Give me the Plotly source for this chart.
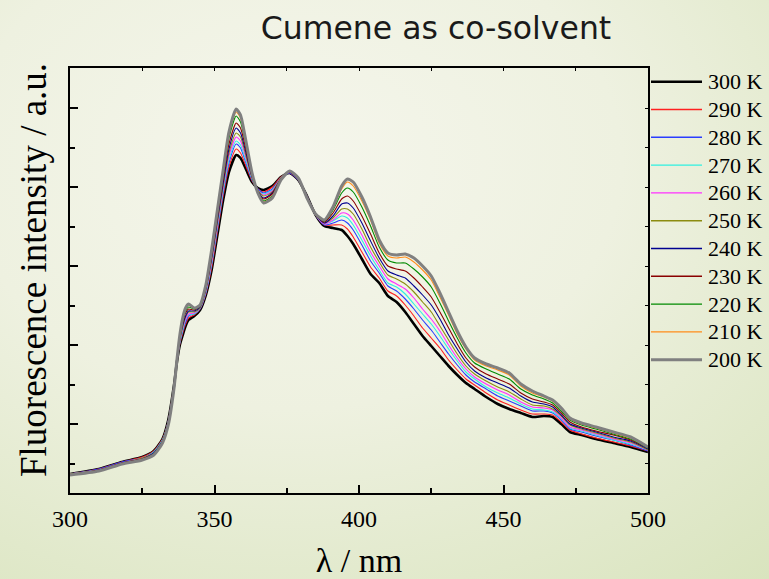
import base64
import plotly.graph_objects as go

# ---------------- data (arbitrary units) ----------------
wavelength = [300, 310, 318, 325, 329, 332, 334, 336, 337, 338, 339, 340, 341, 343, 345,
              347, 349, 351, 353, 355, 357.5, 359, 361, 363, 365, 367, 370, 373, 376, 379,
              382, 385, 388, 391, 394, 396, 398, 401, 404, 407, 410, 413, 416, 419, 422,
              425, 428, 431, 434, 437, 440, 444, 448, 452, 456, 460, 464, 467, 470, 473,
              477, 482, 488, 494, 500]

i300 = [19, 24, 31, 36, 42, 54, 73, 108, 131, 148, 158, 167, 173, 177, 183,
        198, 223, 258, 293, 321, 338, 335, 323, 311, 305, 303, 307, 316, 320, 313,
        297, 278, 267, 265, 263, 257, 249, 234, 219, 210, 197, 191, 181, 169, 157,
        147, 137, 127, 118, 110, 104, 96, 89, 84, 80, 76, 77, 76, 69, 61,
        58, 54, 50, 46, 41]
i290 = [19, 24, 31, 36, 42, 54, 72, 108, 131, 149, 160, 169, 175, 178, 184,
        199, 225, 261, 297, 326, 344, 340, 326, 312, 304, 301, 306, 316, 320, 313,
        297, 278, 268, 268, 268, 264, 256, 241, 226, 215, 202, 197, 188, 177, 165,
        155, 145, 133, 123, 114, 108, 100, 93, 88, 83, 79, 79, 78, 71, 63,
        59, 55, 51, 47, 42]
i280 = [19, 24, 31, 35, 41, 53, 72, 107, 131, 150, 162, 171, 177, 179, 184,
        200, 228, 264, 300, 330, 349, 345, 329, 313, 304, 300, 304, 315, 320, 313,
        297, 278, 268, 270, 273, 270, 263, 248, 232, 220, 207, 202, 194, 184, 173,
        163, 151, 139, 128, 118, 111, 104, 97, 92, 87, 82, 82, 80, 73, 64,
        61, 57, 53, 48, 42]
i270 = [19, 23, 30, 35, 41, 53, 71, 107, 132, 151, 163, 173, 178, 179, 185,
        201, 229, 266, 302, 333, 352, 348, 331, 314, 303, 299, 303, 315, 321, 314,
        296, 278, 269, 272, 277, 275, 268, 253, 237, 223, 210, 206, 199, 189, 179,
        169, 157, 144, 132, 121, 114, 106, 100, 95, 89, 84, 83, 81, 74, 65,
        62, 58, 53, 49, 43]
i260 = [19, 23, 30, 35, 40, 52, 71, 107, 132, 152, 165, 174, 179, 180, 185,
        202, 231, 268, 305, 337, 356, 352, 334, 315, 303, 298, 302, 315, 321, 314,
        296, 278, 269, 273, 280, 279, 273, 258, 241, 227, 214, 209, 204, 195, 184,
        174, 162, 148, 135, 124, 116, 109, 103, 98, 91, 86, 85, 83, 75, 66,
        63, 59, 54, 50, 43]
i250 = [19, 23, 30, 35, 40, 52, 71, 107, 132, 153, 166, 176, 181, 181, 185,
        203, 233, 270, 307, 340, 360, 356, 336, 315, 303, 297, 301, 315, 321, 314,
        296, 278, 270, 275, 284, 284, 279, 264, 246, 231, 218, 214, 209, 201, 191,
        181, 167, 153, 139, 127, 119, 112, 106, 101, 94, 88, 87, 84, 77, 68,
        64, 60, 55, 51, 43]
i240 = [18, 23, 30, 34, 40, 52, 70, 106, 132, 154, 168, 177, 182, 182, 186,
        204, 235, 273, 310, 344, 365, 360, 339, 316, 302, 295, 300, 314, 321, 314,
        296, 279, 270, 277, 289, 290, 285, 270, 252, 235, 222, 218, 215, 207, 198,
        188, 174, 158, 144, 131, 122, 115, 110, 105, 97, 91, 89, 86, 78, 69,
        65, 61, 56, 52, 44]
i230 = [18, 23, 30, 34, 39, 51, 69, 106, 132, 155, 170, 180, 184, 183, 187,
        205, 237, 276, 314, 349, 370, 365, 342, 317, 301, 294, 299, 314, 321, 314,
        296, 279, 271, 280, 294, 297, 292, 277, 259, 240, 227, 224, 222, 215, 206,
        196, 181, 165, 149, 135, 126, 119, 114, 109, 100, 94, 91, 88, 80, 71,
        66, 62, 58, 53, 45]
i220 = [18, 22, 29, 33, 39, 51, 69, 105, 133, 156, 172, 182, 186, 184, 187,
        206, 240, 279, 318, 355, 377, 371, 346, 319, 301, 292, 297, 313, 322, 315,
        295, 279, 272, 283, 300, 305, 301, 286, 267, 246, 233, 230, 230, 224, 216,
        206, 190, 172, 155, 140, 130, 124, 119, 114, 104, 98, 94, 90, 82, 73,
        68, 64, 59, 54, 45]
i210 = [18, 22, 29, 33, 38, 50, 68, 105, 133, 157, 174, 184, 188, 185, 188,
        207, 242, 282, 321, 359, 381, 375, 348, 319, 300, 291, 296, 313, 322, 315,
        295, 279, 273, 285, 304, 311, 307, 292, 273, 250, 237, 235, 236, 231, 223,
        213, 196, 178, 159, 144, 133, 127, 123, 118, 107, 100, 96, 92, 84, 74,
        69, 65, 60, 55, 46]
i200 = [18, 22, 29, 33, 38, 50, 68, 105, 133, 158, 175, 185, 189, 185, 188,
        208, 243, 283, 323, 361, 384, 378, 350, 320, 300, 290, 295, 313, 322, 315,
        295, 279, 273, 286, 307, 314, 311, 296, 276, 253, 240, 238, 239, 235, 227,
        217, 200, 181, 162, 146, 135, 129, 125, 120, 109, 102, 97, 93, 85, 75,
        70, 66, 61, 56, 46]

series_names = ["300 K", "290 K", "280 K", "270 K", "260 K", "250 K",
                "240 K", "230 K", "220 K", "210 K", "200 K"]
series_values = [i300, i290, i280, i270, i260, i250, i240, i230, i220, i210, i200]
x_tick_values = [300, 350, 400, 450, 500]
x_tick_labels = ["300", "350", "400", "450", "500"]

# ---------------- styles ----------------
series_colors = ["#000000", "#ff2020", "#2a3dff", "#2ff0e0", "#ff30ff", "#8c8c10",
                 "#000090", "#8a0000", "#008a00", "#ff8c1a", "#808080"]
series_widths = [2.6, 1.1, 1.1, 1.1, 1.1, 1.1, 1.1, 1.1, 1.1, 1.1, 3.0]

W, H = 769, 579
ML, MR, MT, MB = 70, 121, 68, 86
PW, PH = W - ML - MR, H - MT - MB

fig = go.Figure()
for name, vals, col, lw in zip(series_names, series_values, series_colors, series_widths):
    fig.add_trace(go.Scatter(x=wavelength, y=vals, mode="lines", name=name,
                             line=dict(color=col, width=lw, shape="spline", smoothing=0.6),
                             showlegend=False))

# empty trace to carry the short top/right mirror ticks
fig.add_trace(go.Scatter(x=[None], y=[None], xaxis="x2", yaxis="y2",
                         showlegend=False, hoverinfo="skip"))

serif = "Liberation Serif, Times New Roman, serif"

fig.update_layout(
    width=W, height=H,
    margin=dict(l=ML, r=MR, t=MT, b=MB, autoexpand=False),
    paper_bgcolor="#eef1e0",
    plot_bgcolor="rgba(0,0,0,0)",
    showlegend=False,
    title=dict(text="Cumene as co-solvent", x=436 / W, xanchor="center",
               y=1 - 28 / H, yanchor="middle",
               font=dict(family="DejaVu Sans", size=31.5, color="#1a1a1a")),
    xaxis=dict(range=[300, 500], tickvals=x_tick_values, ticktext=x_tick_labels,
               ticks="inside", ticklen=8, tickwidth=1.5, tickcolor="black",
               minor=dict(ticks="inside", ticklen=5, dtick=25, tick0=300,
                          tickwidth=1.5, tickcolor="black"),
               showline=True, linecolor="black", linewidth=2, mirror=True,
               showgrid=False, zeroline=False,
               tickfont=dict(family=serif, size=24, color="black"),
               ticklabelstandoff=3,
               title=dict(text="λ / nm", font=dict(family=serif, size=34, color="black"),
                          standoff=30)),
    yaxis=dict(range=[0, 425], tick0=69, dtick=79, showticklabels=False,
               ticks="inside", ticklen=8, tickwidth=1.5, tickcolor="black",
               minor=dict(ticks="inside", ticklen=5, dtick=39.5, tick0=29.5,
                          tickwidth=1.5, tickcolor="black"),
               showline=True, linecolor="black", linewidth=2, mirror=True,
               showgrid=False, zeroline=False),
    xaxis2=dict(range=[300, 500], overlaying="x", side="top", dtick=25, tick0=300,
                ticks="inside", ticklen=3, tickwidth=1.2, tickcolor="black",
                showticklabels=False, showgrid=False, zeroline=False, showline=False),
    yaxis2=dict(range=[0, 425], overlaying="y", side="right", dtick=39.5, tick0=29.5,
                ticks="inside", ticklen=3, tickwidth=1.2, tickcolor="black",
                showticklabels=False, showgrid=False, zeroline=False, showline=False),
)

# y-axis title (placed precisely)
fig.add_annotation(text="Fluorescence intensity / a.u.", xref="paper", yref="paper",
                   x=(33 - ML) / PW, y=(MT + PH - 270) / PH, textangle=-90,
                   showarrow=False, xanchor="center", yanchor="middle",
                   font=dict(family=serif, size=37, color="black"))

# custom legend to the right of the frame
for k, (name, col, lw) in enumerate(zip(series_names, series_colors, series_widths)):
    ypix = 81.7 + 27.8 * k
    yp = (MT + PH - ypix) / PH
    fig.add_shape(type="line", xref="paper", yref="paper",
                  x0=(651 - ML) / PW, x1=(702 - ML) / PW, y0=yp, y1=yp,
                  line=dict(color=col, width=lw if lw > 2 else 1.4))
    fig.add_annotation(text=name, xref="paper", yref="paper",
                       x=(706 - ML) / PW, y=yp, xanchor="left", yanchor="middle",
                       showarrow=False, font=dict(family=serif, size=22, color="black"))

# gradient background image
svg = ('<svg xmlns="http://www.w3.org/2000/svg" width="769" height="579">'
       '<defs><radialGradient id="g" cx="0.38" cy="0.28" r="0.95" fx="0.38" fy="0.28">'
       '<stop offset="0" stop-color="#f5f6ec"/>'
       '<stop offset="0.45" stop-color="#eef1e0"/>'
       '<stop offset="1" stop-color="#d9e4be"/>'
       '</radialGradient></defs>'
       '<rect width="769" height="579" fill="url(#g)"/></svg>')
src = "data:image/svg+xml;base64," + base64.b64encode(svg.encode()).decode()
fig.add_layout_image(dict(source=src, xref="paper", yref="paper",
                          x=-ML / PW, y=1 + MT / PH, sizex=W / PW, sizey=H / PH,
                          xanchor="left", yanchor="top", sizing="stretch",
                          layer="below", opacity=1))

fig.write_html("out.html", config={"displayModeBar": False},
               post_script="document.body.style.margin='0px';")
